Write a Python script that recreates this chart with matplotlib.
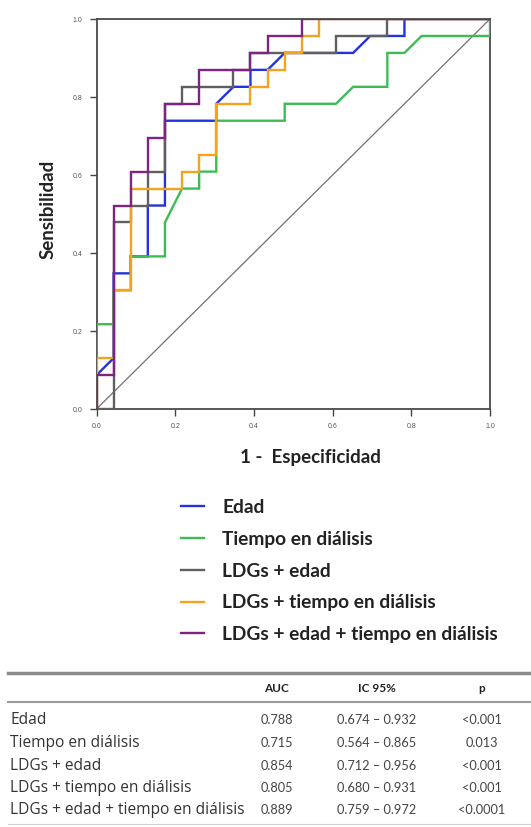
import matplotlib
matplotlib.use("Agg")
import matplotlib.pyplot as plt
from matplotlib.lines import Line2D

# ROC curves in steps of 1/23 (23 cases, 23 controls)
N_NEG = 23
N_POS = 23

edad_fp = [0, 0, 1, 1, 2, 2, 3, 3, 4, 4, 7, 7, 8, 9, 9, 10, 11, 15, 16, 18, 18, 23]
edad_tp = [0, 2, 3, 8, 8, 9, 9, 12, 12, 17, 17, 18, 19, 19, 20, 20, 21, 21, 22, 22, 23, 23]

tiempo_fp = [0, 0, 1, 1, 2, 2, 4, 4, 5, 6, 6, 7, 7, 11, 11, 14, 15, 17, 17, 18, 19, 23, 23]
tiempo_tp = [0, 5, 5, 7, 7, 9, 9, 11, 13, 13, 14, 14, 17, 17, 18, 18, 19, 19, 21, 21, 22, 22, 23]

ldg_edad_fp = [0, 1, 1, 2, 2, 3, 3, 4, 4, 5, 5, 8, 8, 9, 9, 14, 14, 17, 17, 23]
ldg_edad_tp = [0, 0, 11, 11, 12, 12, 14, 14, 18, 18, 19, 19, 20, 20, 21, 21, 22, 22, 23, 23]

ldg_tiempo_fp = [0, 0, 1, 1, 2, 2, 5, 5, 6, 6, 7, 7, 9, 9, 10, 10, 11, 11, 12, 12, 13, 13, 23]
ldg_tiempo_tp = [0, 3, 3, 7, 7, 13, 13, 14, 14, 15, 15, 18, 18, 19, 19, 20, 20, 21, 21, 22, 22, 23, 23]

ldg_todo_fp = [0, 0, 1, 1, 2, 2, 3, 3, 4, 4, 6, 6, 9, 9, 10, 10, 12, 12, 23]
ldg_todo_tp = [0, 2, 2, 12, 12, 14, 14, 16, 16, 18, 18, 20, 20, 21, 21, 22, 22, 23, 23]

labels = ["Edad", "Tiempo en diálisis", "LDGs + edad",
          "LDGs + tiempo en diálisis", "LDGs + edad + tiempo en diálisis"]

# table
table_rows = labels
table_head = ["AUC", "IC 95%", "p"]
auc_vals = ["0.788", "0.715", "0.854", "0.805", "0.889"]
ic_vals = ["0.674 – 0.932", "0.564 – 0.865", "0.712 – 0.956",
           "0.680 – 0.931", "0.759 – 0.972"]
p_vals = ["<0.001", "0.013", "<0.001", "<0.001", "<0.0001"]

W, H = 531, 827
plt.rcParams['font.family'] = ['Lato', 'DejaVu Sans']

fig = plt.figure(figsize=(W / 100, H / 100), dpi=100)


def fx(px):
    return px / W


def fy(px):
    return 1 - px / H


AX_L, AX_R, AX_T, AX_B = 96.5, 490, 19, 409
ax = fig.add_axes([fx(AX_L), fy(AX_B), fx(AX_R) - fx(AX_L), fy(AX_T) - fy(AX_B)])

curves = [
    (edad_fp, edad_tp, "#2233dd"),
    (tiempo_fp, tiempo_tp, "#3dbb55"),
    (ldg_edad_fp, ldg_edad_tp, "#5f5f5f"),
    (ldg_tiempo_fp, ldg_tiempo_tp, "#f5a21e"),
    (ldg_todo_fp, ldg_todo_tp, "#7e2382"),
]
# draw order seen in the picture: green, blue, gray, orange, purple
order = [1, 0, 2, 3, 4]

ax.plot([0, 1], [0, 1], color="#707070", lw=0.9, zorder=1)
handles = [None] * 5
for k in order:
    fp, tp, col = curves[k]
    line, = ax.plot([v / N_NEG for v in fp], [v / N_POS for v in tp],
                    color=col, lw=1.7, solid_joinstyle="miter", zorder=2 + k)
    handles[k] = line

ax.set_xlim(0, 1)
ax.set_ylim(0, 1)
ticks = [0.0, 0.2, 0.4, 0.6, 0.8, 1.0]
ax.set_xticks(ticks)
ax.set_yticks(ticks)
ax.set_xticklabels(["%.1f" % t for t in ticks], family="Liberation Sans")
ax.set_yticklabels(["%.1f" % t for t in ticks], family="Liberation Sans")
ax.tick_params(direction="out", length=5, width=1, color="#444444",
               labelsize=5, labelcolor="#555555", pad=5)
for sp in ax.spines.values():
    sp.set_color("#4a4a4a")
    sp.set_linewidth(1.3)

ax.set_xlabel("1 -  Especificidad", fontsize=13.5, fontweight="bold",
              color="#222222")
ax.xaxis.set_label_coords((310 - AX_L) / (AX_R - AX_L), -(458 - AX_B) / (AX_B - AX_T))
ax.xaxis.label.set_va("center")
ax.set_ylabel("Sensibilidad", fontsize=13.5, fontweight="bold", color="#222222")
ax.yaxis.set_label_coords((48 - AX_L) / (AX_R - AX_L), (AX_B - 209) / (AX_B - AX_T))
ax.yaxis.label.set_va("center")

fig.legend(handles=handles, labels=labels, loc="upper left",
           bbox_to_anchor=(fx(181), fy(499)), frameon=False,
           prop={"family": "Lato", "weight": "bold", "size": 13.8},
           labelcolor="#222222", handlelength=1.2, handletextpad=0.95,
           labelspacing=0.77, borderpad=0, borderaxespad=0)

# table rules
fig.add_artist(Line2D([fx(8), fx(531)], [fy(672.5), fy(672.5)],
                      color="#8a8a8a", lw=2.5))
fig.add_artist(Line2D([fx(8), fx(531)], [fy(701.5), fy(701.5)],
                      color="#9a9a9a", lw=1.5))
fig.add_artist(Line2D([fx(8), fx(531)], [fy(824), fy(824)],
                      color="#d0d0d0", lw=0.8))

col_x = [277, 377, 482]
for cx, head in zip(col_x, table_head):
    fig.text(fx(cx), fy(689), head, ha="center", va="center",
             fontsize=8.5, fontweight="bold", color="#222222")

row_y = [720, 743, 766, 788, 810]
for ry, name, a, ic, p in zip(row_y, table_rows, auc_vals, ic_vals, p_vals):
    fig.text(fx(10), fy(ry), name, ha="left", va="center",
             fontsize=11.2, family="Open Sans", color="#333333")
    for cx, val in zip(col_x, [a, ic, p]):
        fig.text(fx(cx), fy(ry), val, ha="center", va="center",
                 fontsize=9.2, color="#444444")

fig.savefig("out.png", dpi=100)
